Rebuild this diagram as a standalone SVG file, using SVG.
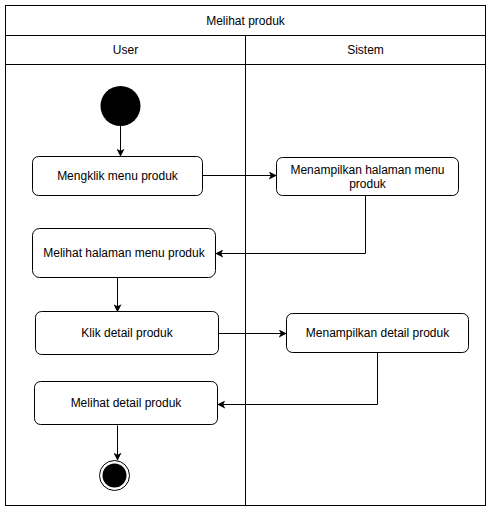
<svg xmlns="http://www.w3.org/2000/svg" width="492" height="511" viewBox="0 0 492 511">
<style>
.frame{fill:#fff;stroke:#000;stroke-width:1}
.node{fill:#fff;stroke:#000;stroke-width:1}
.t{font-family:"Liberation Sans",Arial,sans-serif;font-size:12px;fill:#000;text-anchor:middle;dominant-baseline:central}
.c{fill:none;stroke:#000;stroke-width:1}
</style>
<defs>
<marker id="arr" viewBox="0 0 10 10" refX="9" refY="5" markerWidth="8" markerHeight="8" markerUnits="userSpaceOnUse" orient="auto">
<path d="M0,0 L10,5 L0,10 L2.5,5 Z" fill="#000"/>
</marker>
</defs>
<g id="pool">
<rect class="frame" x="5.5" y="5.5" width="480" height="500"/>
<line class="c" x1="5.5" y1="35.5" x2="485.5" y2="35.5"/>
<line class="c" x1="5.5" y1="64.5" x2="485.5" y2="64.5"/>
<line class="c" x1="245.5" y1="35.5" x2="245.5" y2="505.5"/>
<text class="t" x="245.5" y="20.5">Melihat produk</text>
<text class="t" x="125.5" y="49.5">User</text>
<text class="t" x="365.5" y="49.5">Sistem</text>
</g>
<g id="connectors">
<path class="c" d="M120.5,126 L120.5,156" marker-end="url(#arr)"/>
<path class="c" d="M202.5,175.5 L276,175.5" marker-end="url(#arr)"/>
<path class="c" d="M365.5,195.5 L365.5,253.5 L216,253.5" marker-end="url(#arr)"/>
<path class="c" d="M117.5,278 L117.5,311.5" marker-end="url(#arr)"/>
<path class="c" d="M218.5,333.5 L286,333.5" marker-end="url(#arr)"/>
<path class="c" d="M377.5,352.5 L377.5,404.5 L218,404.5" marker-end="url(#arr)"/>
<path class="c" d="M117.5,425.5 L117.5,460" marker-end="url(#arr)"/>
</g>
<g id="start"><circle cx="120.5" cy="106" r="20" fill="#000"/></g>
<g id="n1"><rect class="node" x="32.5" y="156.5" width="170" height="39" rx="6"/><text class="t" x="117.5" y="176">Mengklik menu produk</text></g>
<g id="n2"><rect class="node" x="276.5" y="157.5" width="182" height="38" rx="6"/><text class="t" x="367.5" y="169.5">Menampilkan halaman menu</text><text class="t" x="367.5" y="184">produk</text></g>
<g id="n3"><rect class="node" x="32.5" y="228.5" width="183" height="49" rx="7"/><text class="t" x="124" y="253">Melihat halaman menu produk</text></g>
<g id="n4"><rect class="node" x="35.5" y="311.5" width="183" height="43" rx="6"/><text class="t" x="127" y="332.5">Klik detail produk</text></g>
<g id="n5"><rect class="node" x="286.5" y="313.5" width="182" height="39" rx="6"/><text class="t" x="377.5" y="333">Menampilkan detail produk</text></g>
<g id="n6"><rect class="node" x="34.5" y="381.5" width="183" height="43" rx="6"/><text class="t" x="126" y="402.5">Melihat detail produk</text></g>
<g id="end"><circle cx="114.5" cy="475.5" r="15" fill="#fff" stroke="#000" stroke-width="1"/><circle cx="114.5" cy="475.5" r="12" fill="#000"/></g>
</svg>
